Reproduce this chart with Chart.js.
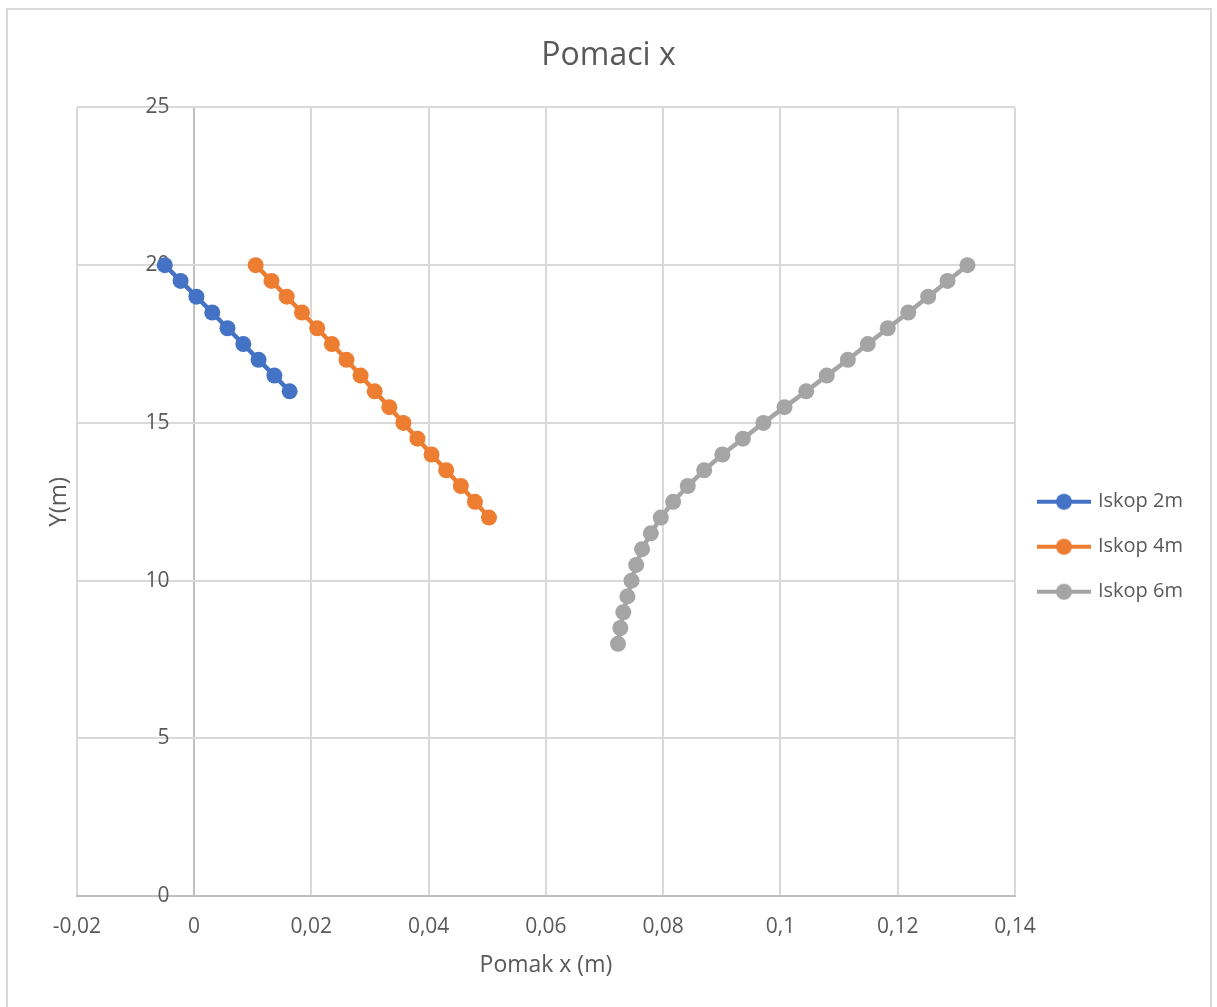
<!DOCTYPE html>
<html><head><meta charset="utf-8">
<script src="https://cdn.jsdelivr.net/npm/chart.js@4/dist/chart.umd.min.js"></script>
<style>
html,body{margin:0;padding:0;background:#fff;}
#wrap{position:absolute;left:0;top:0;width:1217px;height:1007px;overflow:hidden;background:#fff;}
#c{position:absolute;left:0;top:0;}
#frame{position:absolute;left:6px;top:8px;width:1202px;height:1010px;border:2px solid #d9d9d9;pointer-events:none;}
</style></head>
<body><div id="wrap"><canvas id="c" width="1193" height="1007"></canvas><div id="frame"></div></div>
<script>
const chartTitle = 'Pomaci x';
const xTitle = 'Pomak x (m)';
const yTitle = 'Y(m)';
const seriesNames = ['Iskop 2m', 'Iskop 4m', 'Iskop 6m'];
const seriesColors = ['#4472C4', '#ED7D31', '#A5A5A5'];
const xTickLabels = ['-0,02', '0', '0,02', '0,04', '0,06', '0,08', '0,1', '0,12', '0,14'];
const yTickLabels = ['0', '5', '10', '15', '20', '25'];

const x2m = [-0.0050, -0.0023, 0.0004, 0.0031, 0.0057, 0.0084, 0.0110, 0.0137, 0.0163];
const y2m = [20, 19.5, 19, 18.5, 18, 17.5, 17, 16.5, 16];

const x4m = [0.0105, 0.0132, 0.0158, 0.0184, 0.0210, 0.0235, 0.0260, 0.0284, 0.0308,
             0.0333, 0.0357, 0.0381, 0.0405, 0.0430, 0.0455, 0.0479, 0.0503];
const y4m = [20, 19.5, 19, 18.5, 18, 17.5, 17, 16.5, 16, 15.5, 15, 14.5, 14, 13.5, 13, 12.5, 12];

const x6m = [0.1319, 0.1285, 0.1252, 0.1218, 0.1183, 0.1149, 0.1115, 0.1079, 0.1044, 0.1007,
             0.0971, 0.0936, 0.0901, 0.0870, 0.0842, 0.0817, 0.0796, 0.0779, 0.0764, 0.0754,
             0.0746, 0.0739, 0.0732, 0.0727, 0.0723];
const y6m = [20, 19.5, 19, 18.5, 18, 17.5, 17, 16.5, 16, 15.5, 15, 14.5, 14, 13.5, 13, 12.5,
             12, 11.5, 11, 10.5, 10, 9.5, 9, 8.5, 8];

const seriesX = [x2m, x4m, x6m];
const seriesY = [y2m, y4m, y6m];

Chart.defaults.font.family = "'Open Sans', sans-serif";
Chart.defaults.color = '#595959';

function legendIcon(color) {
  const c = document.createElement('canvas');
  c.width = 54; c.height = 18;
  const g = c.getContext('2d');
  g.strokeStyle = color; g.lineWidth = 4;
  g.beginPath(); g.moveTo(0, 9); g.lineTo(54, 9); g.stroke();
  g.fillStyle = color;
  g.beginPath(); g.arc(27, 9, 8, 0, Math.PI * 2); g.fill();
  return c;
}
const icons = seriesColors.map(legendIcon);

const datasets = seriesNames.map((name, i) => ({
  label: name,
  data: seriesX[i].map((x, k) => ({x: x, y: seriesY[i][k]})),
  showLine: true,
  borderColor: seriesColors[i],
  backgroundColor: seriesColors[i],
  borderWidth: 4.5,
  pointRadius: 8,
  pointBorderWidth: 0,
  pointBackgroundColor: seriesColors[i],
  pointHoverRadius: 8,
  xAxisID: 'x',
  yAxisID: 'y'
}));

new Chart(document.getElementById('c'), {
  type: 'scatter',
  data: {datasets: datasets},
  options: {
    responsive: false,
    animation: false,
    events: [],
    layout: {padding: {left: 24, right: 0, top: 0, bottom: 0}},
    plugins: {
      title: {
        display: true, text: chartTitle, color: '#595959',
        font: {size: 32, weight: 'normal'},
        padding: {top: 37, bottom: 32}
      },
      legend: {
        position: 'right',
        align: 'center',
        title: {display: true, text: ' ', padding: {top: 72, bottom: 0}},
        labels: {
          usePointStyle: true,
          pointStyleWidth: 48,
          padding: 25,
          color: '#595959',
          font: {size: 20},
          generateLabels: (chart) => chart.data.datasets.map((ds, i) => ({
            text: ds.label,
            pointStyle: icons[i],
            fillStyle: seriesColors[i],
            strokeStyle: seriesColors[i],
            lineWidth: 0,
            hidden: false,
            datasetIndex: i,
            fontColor: '#595959'
          }))
        }
      },
      tooltip: {enabled: false}
    },
    scales: {
      x: {
        type: 'linear',
        position: 'bottom',
        min: -0.02, max: 0.14,
        ticks: {
          stepSize: 0.02,
          color: '#595959',
          font: {size: 21},
          padding: 18,
          callback: (v, i) => xTickLabels[i]
        },
        grid: {
          color: (ctx) => (ctx.tick && Math.abs(ctx.tick.value) < 1e-9) ? '#bfbfbf' : '#d9d9d9',
          lineWidth: 2,
          drawTicks: false
        },
        border: {display: true, color: '#bfbfbf', width: 2},
        title: {
          display: true, text: xTitle, color: '#595959',
          font: {size: 23},
          padding: {top: -6, bottom: 28}
        }
      },
      y: {
        type: 'linear',
        position: 'left',
        min: 0, max: 25,
        ticks: {stepSize: 5, display: false},
        grid: {color: '#d9d9d9', lineWidth: 2, drawTicks: false},
        border: {display: false},
        title: {
          display: true, text: yTitle, color: '#595959',
          font: {size: 24},
          padding: {top: 21, bottom: 3}
        }
      },
      y2: {
        type: 'linear',
        position: {x: -0.0042},
        min: 0, max: 25,
        ticks: {
          stepSize: 5,
          color: '#595959',
          font: {size: 21},
          callback: (v, i) => yTickLabels[i]
        },
        grid: {display: false, drawTicks: false},
        border: {display: false}
      }
    }
  }
});
</script>
</body></html>
